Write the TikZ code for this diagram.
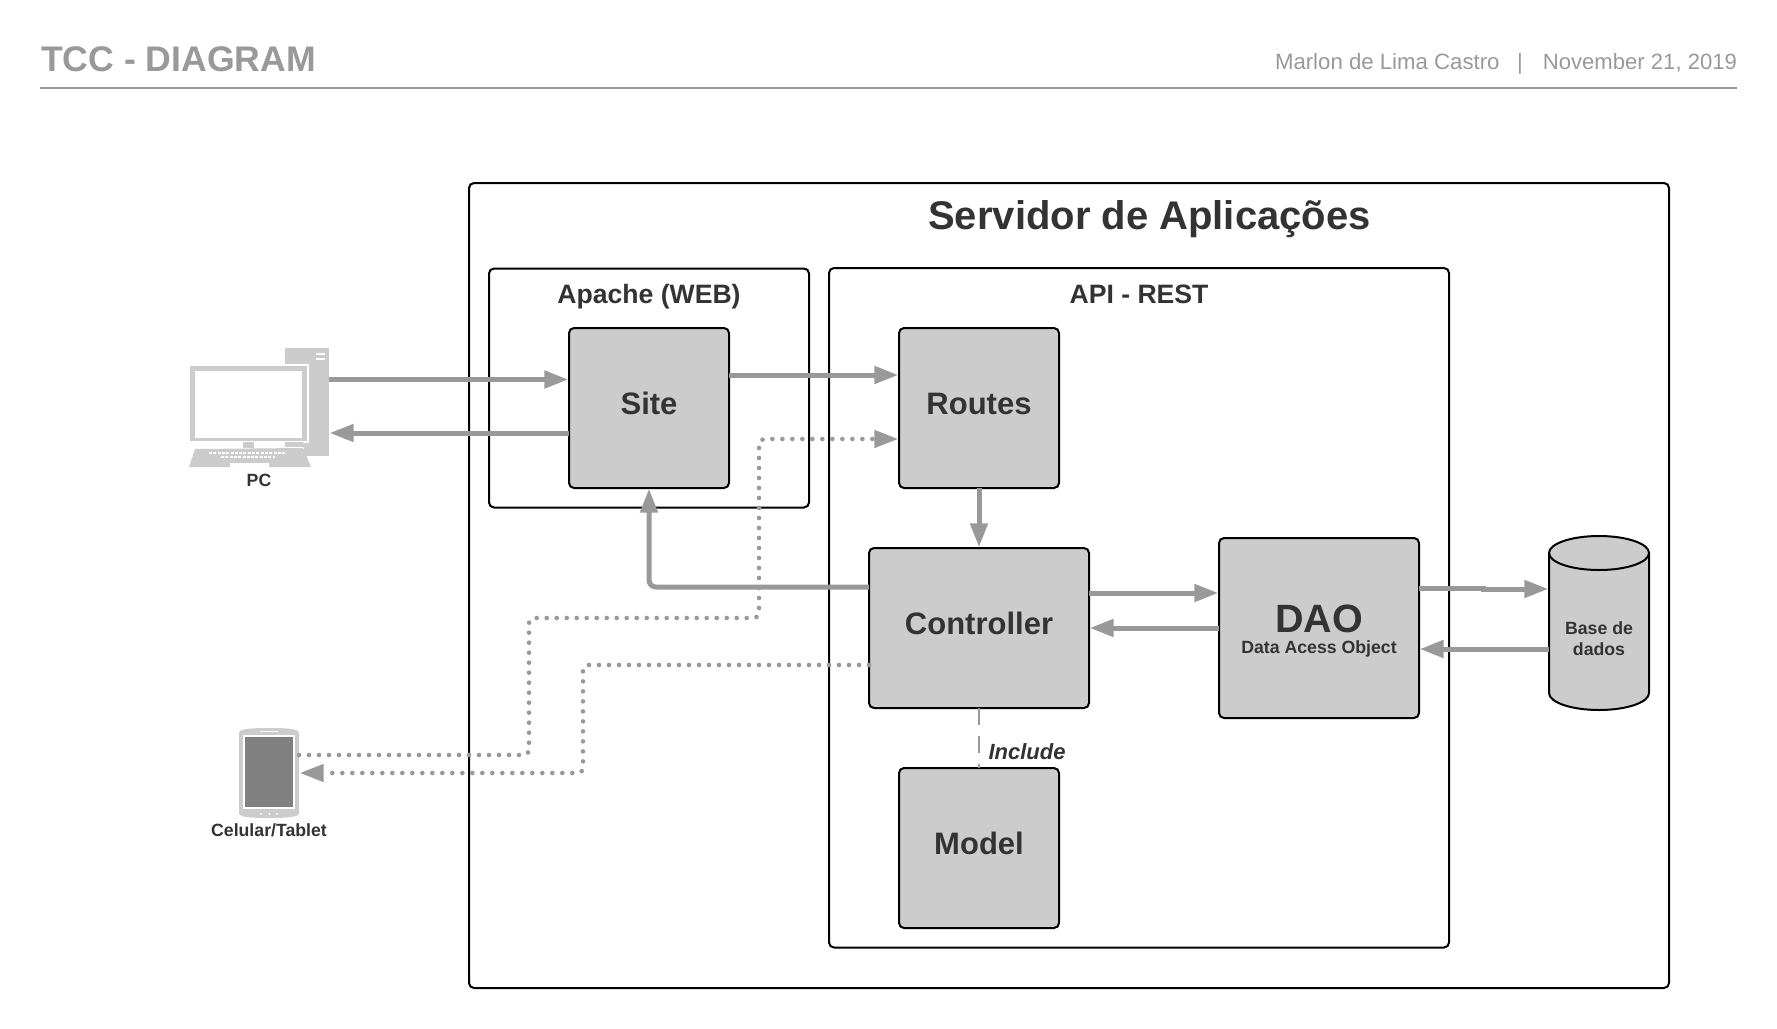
\documentclass[tikz,border=0pt]{standalone}
\usepackage{fontspec}
\setmainfont{Liberation Sans}
\usetikzlibrary{arrows.meta,calc}
\definecolor{cgrey}{HTML}{999999}
\definecolor{cfill}{HTML}{CCCCCC}
\definecolor{ctext}{HTML}{333333}
\definecolor{cdark}{HTML}{808080}
\newcommand{\fs}[1]{\fontsize{#1}{#1}\selectfont}
\tikzset{
  x=1pt,y=-1pt,
  frame/.style={draw=black,line width=2pt,rounded corners=5pt,inner sep=0,outer sep=0,anchor=center},
  block/.style={frame,fill=cfill},
  ghost/.style={inner sep=0,outer sep=0,anchor=center},
  lbl/.style={inner sep=0,outer sep=0,text=ctext,font=\bfseries,anchor=center,align=center},
  head/.style={inner sep=0,outer sep=0,text=cgrey,text height=0.75em,text depth=0.2em},
  flow/.style={draw=cgrey,line width=5pt,-{Triangle[length=24pt,width=17pt]},shorten >=0.7pt},
  dots/.style={draw=cgrey,line width=4.6pt,line cap=round,dash pattern=on 0pt off 10pt,rounded corners=5pt},
  dotflow/.style={dots,-{Triangle[length=24pt,width=17pt]},shorten >=0.7pt},
}
\begin{document}
\begin{tikzpicture}
\useasboundingbox (0,0) rectangle (1777,1028);
% header
\node[head,anchor=west,font=\bfseries\fs{35.6}] (title) at (41,69) {TCC - DIAGRAM};
\node[head,anchor=west,font=\fs{22.2}] (author) at (1275,66.5) {Marlon de Lima Castro};
\node[head,font=\fs{22.2}] (sep) at (1520,66.5) {|};
\node[head,anchor=east,font=\fs{22.1}] (date) at (1737,66.5) {November 21, 2019};
\coordinate (ruleL) at (40,88);
\coordinate (ruleR) at (1737,88);
\draw[cgrey,line width=2pt] (ruleL) -- (ruleR);
% frames
\node[frame,minimum width=1200pt,minimum height=805pt] (server) at (1069,585.5) {};
\node[frame,minimum width=320pt,minimum height=239pt] (apache) at (649,388) {};
\node[frame,minimum width=620pt,minimum height=679.5pt] (api) at (1139,607.75) {};
\node[lbl,font=\bfseries\fs{40}] (serverT) at (1149.5,219) {Servidor de Aplicações};
\node[lbl,font=\bfseries\fs{26.6}] (apacheT) at (649,296.6) {Apache (WEB)};
\node[lbl,font=\bfseries\fs{26.6}] (apiT) at (1139,294) {API - REST};
% blocks
\node[block,minimum width=160pt,minimum height=160pt] (site) at (649,408) {};
\node[block,minimum width=160pt,minimum height=160pt] (routes) at (979,408) {};
\node[block,minimum width=220pt,minimum height=160pt] (controller) at (979,628) {};
\node[block,minimum width=160pt,minimum height=160pt] (model) at (979,848) {};
\node[block,minimum width=200pt,minimum height=180pt] (dao) at (1319,628) {};
\node[lbl,font=\bfseries\fs{31}] (siteT) at (649,403) {Site};
\node[lbl,font=\bfseries\fs{31}] (routesT) at (979,404) {Routes};
\node[lbl,font=\bfseries\fs{31}] (controllerT) at (979,623) {Controller};
\node[lbl,font=\bfseries\fs{31}] (modelT) at (979,843) {Model};
\node[lbl,font=\bfseries\fs{39.5}] (daoT) at (1319,619) {DAO};
\node[lbl,font=\bfseries\fs{17.7}] (daoS) at (1319,648.5) {Data Acess Object};
% database
\node[ghost,minimum width=100pt,minimum height=174pt] (db) at (1599,623) {};
\draw[black,line width=2pt,fill=cfill] (db.west |- 0,553) -- (db.west |- 0,693)
  arc[start angle=180,end angle=360,x radius=50pt,y radius=17pt]
  -- (db.east |- 0,553)
  arc[start angle=0,end angle=180,x radius=50pt,y radius=17pt] -- cycle;
\draw[black,line width=2pt] (db.west |- 0,553) arc[start angle=180,end angle=360,x radius=50pt,y radius=17pt];
\node[lbl,font=\bfseries\fs{17.7}] (dbT1) at (1599,628) {Base de};
\node[lbl,font=\bfseries\fs{17.7}] (dbT2) at (1599,649) {dados};
% PC icon
\node[ghost,minimum width=140pt,minimum height=120pt] (pc) at (259,408) {};
\fill[cfill] (285,348) rectangle (329,456);
\fill[white] (316,353) rectangle (325,355);
\fill[white] (316,357.5) rectangle (325,359.5);
\fill[white] (188,364) rectangle (309,443);
\fill[cfill] (190,366) rectangle (307,441);
\fill[white] (195,371) rectangle (302,438);
\fill[cfill] (243,442) rectangle (254,448);
\fill[cfill] (285,442) rectangle (303,447);
\fill[white] (303,447) -- (285,447) -- (285,449) -- (304,449) -- cycle;
\fill[cfill] (195,449) -- (303,448) -- (311,467) -- (189,467) -- cycle;
\draw[white,line width=2pt,dash pattern=on 3pt off 1.3pt] (209,453) -- (286,453);
\draw[white,line width=2pt,dash pattern=on 3pt off 1.3pt] (221,457) -- (275,457);
\fill[white] (230,463) rectangle (269,466.5);
\node[lbl,font=\bfseries\fs{17.7}] (pcT) at (259,480) {PC};
% Tablet icon
\node[ghost,minimum width=60pt,minimum height=90pt] (tablet) at (269,773) {};
\fill[cfill] (239,733) .. controls (239,729) and (250,728) .. (269,728) .. controls (288,728) and (299,729) .. (299,733)
  -- (299,813) .. controls (299,817) and (288,818) .. (269,818) .. controls (250,818) and (239,817) .. (239,813) -- cycle;
\fill[white] (243,735) rectangle (295,809);
\fill[cdark] (245,737) rectangle (293,807);
\fill[white] (260,731) rectangle (278,732);
\foreach \dx in {261,269.5,277} \fill[white] (\dx,814) circle[radius=1pt];
\node[lbl,font=\bfseries\fs{17.7}] (tabletT) at (269,830.5) {Celular/Tablet};
% solid connectors
\draw[flow] ([yshift=28.5pt]pc.east) -- ([yshift=28.5pt]site.west);
\draw[flow] ([yshift=-25pt]site.west) -- ([yshift=-25pt]pc.east);
\draw[flow] ([yshift=33pt]site.east) -- ([yshift=33pt]routes.west);
\draw[flow] (routes.south) -- (controller.north);
\draw[flow,rounded corners=7pt] ([yshift=41pt]controller.west) -| (site.south);
\draw[flow] ([yshift=35pt]controller.east) -- ([yshift=35pt]dao.west);
\draw[flow] (dao.west) -- (controller.east);
\draw[flow] ([yshift=40pt]dao.east) -- ++(64,0) -- ++(0,1) -- ([yshift=34pt]db.west);
\draw[flow] ([yshift=-26pt]db.west) -- ([yshift=-21pt]dao.east);
% dotted connectors
\draw[dotflow] ([yshift=18pt]tablet.east) -| (529,618) -| (759,439) -- ([yshift=-31pt]routes.west);
\draw[dotflow] ([yshift=-37pt]controller.west) -| (583,773) -- (tablet.east);
% include
\draw[cgrey,line width=2pt,dash pattern=on 17pt off 11pt] (controller.south) -- (model.north);
\node[lbl,font=\bfseries\itshape\fs{22}] (incl) at (1027,752) {Include};
\end{tikzpicture}
\end{document}
